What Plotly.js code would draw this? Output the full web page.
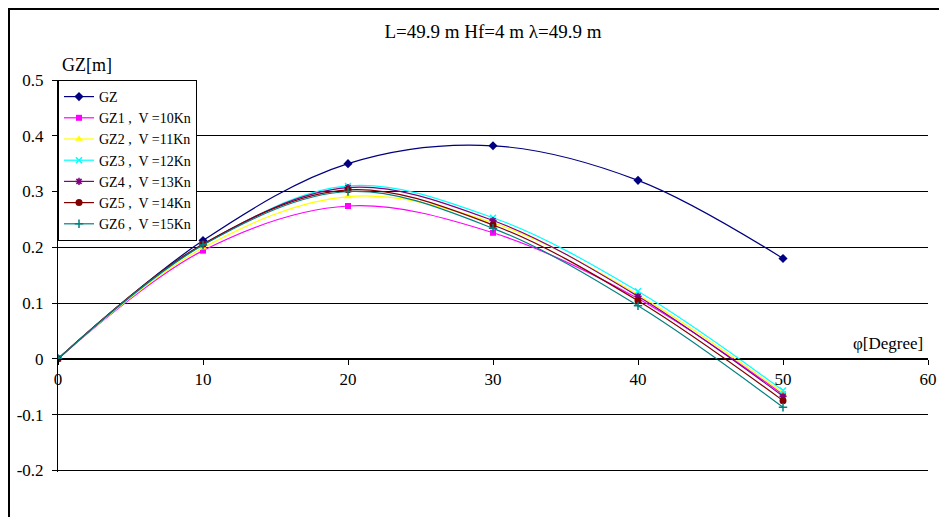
<!DOCTYPE html>
<html>
<head>
<meta charset="utf-8">
<script src="https://cdn.plot.ly/plotly-3.0.1.min.js"></script>
<style>html,body{margin:0;padding:0;background:#fff;}#chart{width:939px;height:517px;}</style>
</head>
<body>
<div id="chart"></div>
<script>
const phi = [0, 10, 20, 30, 40, 50];
const gz  = [0, 0.212, 0.350, 0.382, 0.320, 0.180];
const gz1 = [0, 0.194, 0.274, 0.226, 0.108, -0.064];
const gz2 = [0, 0.199, 0.291, 0.244, 0.115, -0.061];
const gz3 = [0, 0.204, 0.310, 0.253, 0.121, -0.057];
const gz4 = [0, 0.205, 0.307, 0.248, 0.112, -0.067];
const gz5 = [0, 0.206, 0.303, 0.240, 0.104, -0.075];
const gz6 = [0, 0.204, 0.300, 0.234, 0.095, -0.087];
const seriesNames = ["GZ", "GZ1 ,\u00a0 V =10Kn", "GZ2 ,\u00a0 V =11Kn", "GZ3 ,\u00a0 V =12Kn", "GZ4 ,\u00a0 V =13Kn", "GZ5 ,\u00a0 V =14Kn", "GZ6 ,\u00a0 V =15Kn"];
const yTickVals = [-0.2, -0.1, 0, 0.1, 0.2, 0.3, 0.4, 0.5];
const yTickText = ["-0.2", "-0.1", "0", "0.1", "0.2", "0.3", "0.4", "0.5"];
const xTickVals = [0, 10, 20, 30, 40, 50, 60];

const seriesData = [gz, gz1, gz2, gz3, gz4, gz5, gz6];
const styles = [
  {color: "#000080", symbol: "diamond", size: 7},
  {color: "#FF00FF", symbol: "square", size: 6},
  {color: "#FFFF00", symbol: "triangle-up", size: 7},
  {color: "#00FFFF", symbol: "x-thin-open", size: 6, lw: 1.5},
  {color: "#800080", symbol: "asterisk-open", size: 6, lw: 1.5},
  {color: "#800000", symbol: "circle", size: 7},
  {color: "#008080", symbol: "cross-thin-open", size: 6, lw: 1.5}
];

const traces = seriesData.map((ys, i) => ({
  x: phi, y: ys, name: seriesNames[i], type: "scatter", mode: "lines+markers",
  line: {color: styles[i].color, width: 1.2, shape: "spline", smoothing: 1},
  marker: {color: styles[i].color, symbol: styles[i].symbol, size: styles[i].size,
           line: {color: styles[i].color, width: styles[i].lw || 0}}
}));

const yMin = -0.2, yMax = 0.5;
const pad = 0.003;
const serif = "Times New Roman, Liberation Serif, DejaVu Serif, serif";
const layout = {
  width: 939, height: 517,
  margin: {l: 58, r: 11, t: 80, b: 45},
  paper_bgcolor: "#fff", plot_bgcolor: "#fff",
  font: {family: serif, size: 16, color: "#000"},
  title: {text: "L=49.9 m Hf=4 m \u03bb=49.9 m", x: 0.5, xref: "paper", y: 1 - 31/517, yref: "container", yanchor: "middle", font: {family: serif, size: 19}},
  xaxis: {range: [0, 60], tickvals: xTickVals, showgrid: false, zeroline: false,
          showline: true, linecolor: "#000", linewidth: 1,
          ticks: "outside", ticklen: 5, tickcolor: "#000",
          anchor: "free", position: (0 - (yMin - pad)) / (yMax - (yMin - pad)),
          tickfont: {family: serif, size: 17}},
  yaxis: {range: [yMin - pad, yMax], tickvals: yTickVals, ticktext: yTickText,
          showgrid: true, gridcolor: "#000", gridwidth: 1, zeroline: true, zerolinecolor: "#000",
          showline: true, linecolor: "#000", linewidth: 1, ticklabelstandoff: 5,
          ticks: "outside", ticklen: 5, tickcolor: "#000", tickfont: {family: serif, size: 17}},
  legend: {x: 0, y: 1, xanchor: "left", yanchor: "top", bgcolor: "#fff",
           bordercolor: "#000", borderwidth: 1, font: {family: serif, size: 14}, tracegroupgap: 0},
  annotations: [
    {text: "GZ[m]", xref: "paper", yref: "paper", x: 0.002, y: (472-65)/392, xanchor: "left", yanchor: "middle", showarrow: false, font: {family: serif, size: 18}},
    {text: "\u03c6[Degree]", xref: "paper", yref: "paper", x: 0.997, y: (472-343)/392, xanchor: "right", yanchor: "middle", showarrow: false, font: {family: serif, size: 17}}
  ],
  shapes: [
    {type: "rect", xref: "paper", yref: "paper", x0: (9-58)/870, x1: (960-58)/870, y0: (472-540)/392, y1: (472-9)/392,
     line: {color: "#000", width: 2}, fillcolor: "rgba(0,0,0,0)", layer: "below"}
  ],
  showlegend: true
};

Plotly.newPlot("chart", traces, layout, {displayModeBar: false, staticPlot: true});
</script>
</body>
</html>
